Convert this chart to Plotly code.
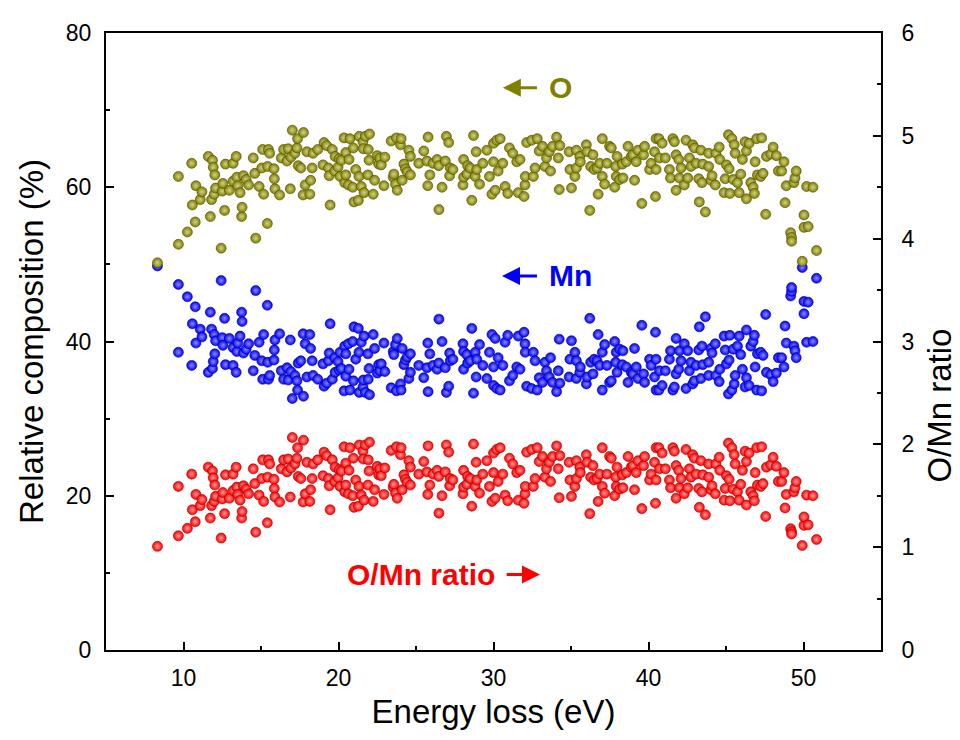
import plotly.graph_objects as go

# Energy loss (eV)
energy = [
    8.32, 9.67, 9.67, 10.25, 10.53, 10.57, 10.76, 10.80, 11.08, 11.19,
    11.60, 11.73, 11.81, 11.87, 11.92, 11.98, 12.02, 12.07, 12.43, 12.50,
    12.54, 12.65, 12.71, 12.96, 13.20, 13.20, 13.40, 13.44, 13.50, 13.65,
    13.75, 13.78, 13.87, 14.04, 14.20, 14.50, 14.60, 14.66, 14.88, 15.05,
    15.11, 15.17, 15.41, 15.43, 15.48, 15.56, 15.84, 15.86, 15.90, 16.20,
    16.31, 16.46, 16.68, 16.76, 16.89, 16.93, 17.02, 17.19, 17.32, 17.36,
    17.40, 17.57, 17.72, 17.74, 17.85, 17.96, 18.15, 18.20, 18.30,
    18.36, 18.66, 19.00, 19.07, 19.24, 19.35, 19.40, 19.46, 19.60, 19.76,
    19.78, 19.97, 20.04, 20.10, 20.19, 20.36, 20.40, 20.47, 20.47, 20.64,
    20.68, 20.74, 20.92, 20.96, 21.00, 21.11, 21.28, 21.32, 21.34, 21.47,
    21.58, 21.60, 21.65, 21.73, 21.90, 21.92, 21.97, 22.00, 22.24, 22.33,
    22.50, 22.59, 22.67, 22.76, 22.93, 22.99, 23.40, 23.53, 23.57, 23.68,
    23.74, 23.79, 24.00, 24.04, 24.11, 24.22, 24.32, 24.43, 24.54, 24.64,
    24.64, 25.18, 25.50, 25.71, 25.76, 25.78, 25.89, 26.10, 26.36, 26.47,
    26.48, 26.68, 26.89, 26.96, 27.11, 27.17, 27.21, 27.38, 28.03, 28.07,
    28.07, 28.28, 28.33, 28.50, 28.60, 28.71,
    28.82, 28.88, 28.92, 29.10, 29.31, 29.57, 29.74, 29.90, 30.00, 30.00,
    30.11, 30.21, 30.30, 30.43, 30.60, 30.75, 30.92, 31.03, 31.24, 31.50,
    31.60, 31.71, 31.97, 32.03, 32.05, 32.14, 32.46, 32.57, 32.68, 32.82,
    32.95, 33.16, 33.32, 33.42, 33.60, 33.68, 33.81, 34.07, 34.18, 34.24,
    34.28, 34.88, 34.93, 35.03, 35.25, 35.35, 35.35, 35.57, 35.60, 35.99,
    36.04, 36.21, 36.27, 36.42, 36.49, 36.68, 36.75, 36.85, 37.02, 37.02,
    37.17, 37.32, 37.49, 37.60, 37.82, 37.88, 37.92, 37.97, 38.14, 38.31,
    38.57, 38.68, 38.89, 38.35, 38.99, 39.10, 39.21, 39.32, 39.57, 39.68,
    39.75, 40.07, 40.17, 40.39, 40.45, 40.49, 40.49, 40.67, 40.71, 40.88,
    41.09, 41.35, 41.42, 41.57, 41.67, 41.78, 41.78, 41.95, 42.00, 42.10,
    42.31, 42.42, 42.53, 42.64, 42.74, 42.85, 42.96, 43.07, 43.24, 43.28,
    43.38, 43.45, 43.50, 43.67, 43.88, 43.88, 44.03, 44.10, 44.31, 44.35,
    44.56, 44.60, 44.88, 44.95, 45.03, 45.16, 45.20, 45.25, 45.38, 45.46,
    45.53, 45.59, 45.74, 45.85, 45.95, 46.06, 46.23, 46.32, 46.32, 46.49,
    46.60, 46.75, 46.83, 46.88, 46.98, 47.03, 47.24, 47.30, 47.39, 47.56,
    47.61, 47.89, 48.04, 48.25, 48.38, 48.59, 48.74, 48.81, 48.89, 49.17,
    49.23, 49.23, 49.38, 49.45, 49.53, 49.92, 50.03, 50.03, 50.20, 50.30,
    50.61, 50.84,
]

# O relative composition (%)
o_pct = [
    50.2, 52.6, 61.4, 54.2, 63.1, 57.7, 55.5, 60.2, 58.4, 59.4,
    64.0, 56.2, 58.4, 63.5, 62.6, 59.1, 61.6, 59.9, 52.1, 59.5,
    60.5, 57.0, 63.0, 59.6, 63.1, 60.8, 64.0, 61.3, 60.2, 59.3,
    56.2, 57.4, 61.5, 61.0, 60.3, 63.8, 61.8, 53.4, 60.1, 62.5,
    64.9, 59.1, 55.3, 62.7, 64.9, 64.4, 62.4, 61.1, 59.8, 59.0,
    63.8, 64.9, 63.4, 65.0, 59.8, 63.9, 67.4, 64.4, 65.1, 66.3,
    62.8, 62.5, 59.0, 67.1, 60.3, 64.6, 59.1, 60.9, 62.5,
    64.4, 64.9, 62.9, 65.8, 65.4, 62.5, 61.5, 57.7, 64.9, 62.1,
    64.0, 62.6, 63.7, 61.4, 63.5, 66.4, 60.6, 64.5, 61.6, 60.3,
    63.6, 66.3, 60.0, 65.1, 58.1, 62.3, 58.3, 61.4, 66.6, 60.1,
    65.9, 65.0, 59.3, 66.6, 61.6, 64.9, 63.5, 66.9, 59.1, 60.9,
    64.1, 63.0, 63.8, 62.9, 60.2, 63.9, 66.0, 61.3, 61.7, 60.4,
    66.4, 59.6, 65.5, 66.3, 60.9, 63.0, 62.4, 62.0, 64.8, 64.0,
    61.6, 63.1, 64.7, 63.4, 60.2, 66.5, 61.6, 63.1, 63.6, 62.8,
    57.1, 60.0, 63.4, 66.6, 65.8, 61.5, 62.5, 62.3, 60.3, 63.6,
    61.3, 61.7, 62.8, 62.5, 58.3, 66.7,
    61.4, 64.6, 62.3, 60.4, 63.1, 64.8, 61.4, 59.1, 65.7, 63.3,
    59.6, 66.1, 62.1, 66.3, 63.1, 60.1, 59.2, 65.1, 64.4, 63.3,
    59.3, 63.6, 58.8, 60.3, 61.4, 65.8, 66.1, 61.4, 62.5, 66.3,
    64.7, 65.3, 62.7, 63.8, 64.6, 62.1, 65.3, 66.5, 63.8, 59.7,
    65.4, 64.6, 62.3, 59.9, 61.4, 62.5, 64.8, 64.0, 63.3, 65.5,
    64.6, 57.0, 62.7, 64.2, 62.3, 62.5, 59.1, 63.1, 66.3, 61.4,
    60.4, 63.1, 65.3, 65.1, 60.0, 62.7, 61.4, 64.0, 61.0, 63.0,
    63.3, 65.3, 64.0, 61.2, 64.2, 60.9, 63.3, 64.8, 57.9, 64.2,
    65.3, 62.3, 63.1, 64.6, 58.8, 66.3, 62.3, 66.3, 63.8, 65.7,
    63.8, 62.3, 61.2, 66.3, 65.9, 64.2, 59.6, 63.6, 61.2, 62.5,
    60.3, 66.1, 61.2, 63.8, 62.7, 65.5, 65.1, 63.1, 61.1, 58.1,
    64.8, 60.6, 63.0, 56.8, 64.4, 62.7, 60.9, 61.5, 60.3, 64.4,
    65.2, 63.6, 59.3, 61.1, 62.9, 66.8, 62.4, 59.2, 66.3, 61.0,
    65.5, 64.4, 60.6, 59.3, 61.7, 63.6, 65.9, 64.7, 58.5, 65.7,
    60.6, 60.0, 59.2, 63.3, 66.3, 61.6, 61.4, 66.4, 61.8, 56.5,
    64.0, 64.3, 65.2, 64.1, 62.1, 62.1, 63.3, 58.0, 60.2, 54.1,
    53.5, 53.0, 60.6, 61.2, 62.1, 50.4, 54.8, 56.4, 60.1, 54.9,
    60.0, 51.8,
]

# Mn relative composition (%)
mn_pct = [
    49.8, 47.4, 38.6, 45.8, 36.9, 42.3, 44.5, 39.8, 41.6, 40.6,
    36.0, 43.8, 41.6, 36.5, 37.4, 40.9, 38.4, 40.1, 47.9, 40.5,
    39.5, 43.0, 37.0, 40.4, 36.9, 39.2, 36.0, 38.7, 39.8, 40.7,
    43.8, 42.6, 38.5, 39.0, 39.7, 36.2, 38.2, 46.6, 39.9, 37.5,
    35.1, 40.9, 44.7, 37.3, 35.1, 35.6, 37.6, 38.9, 40.2, 41.0,
    36.2, 35.1, 36.6, 35.0, 40.2, 36.1, 32.6, 35.6, 34.9, 33.7,
    37.2, 37.5, 41.0, 32.9, 39.7, 35.4, 40.9, 39.1, 37.5,
    35.6, 35.1, 37.1, 34.2, 34.6, 37.5, 38.5, 42.3, 35.1, 37.9,
    36.0, 37.4, 36.3, 38.6, 36.5, 33.6, 39.4, 35.5, 38.4, 39.7,
    36.4, 33.7, 40.0, 34.9, 41.9, 37.7, 41.7, 38.6, 33.4, 39.9,
    34.1, 35.0, 40.7, 33.4, 38.4, 35.1, 36.5, 33.1, 40.9, 39.1,
    35.9, 37.0, 36.2, 37.1, 39.8, 36.1, 34.0, 38.7, 38.3, 39.6,
    33.6, 40.4, 34.5, 33.7, 39.1, 37.0, 37.6, 38.0, 35.2, 36.0,
    38.4, 36.9, 35.3, 36.6, 39.8, 33.5, 38.4, 36.9, 36.4, 37.2,
    42.9, 40.0, 36.6, 33.4, 34.2, 38.5, 37.5, 37.7, 39.7, 36.4,
    38.7, 38.3, 37.2, 37.5, 41.7, 33.3,
    38.6, 35.4, 37.7, 39.6, 36.9, 35.2, 38.6, 40.9, 34.3, 36.7,
    40.4, 33.9, 37.9, 33.7, 36.9, 39.9, 40.8, 34.9, 35.6, 36.7,
    40.7, 36.4, 41.2, 39.7, 38.6, 34.2, 33.9, 38.6, 37.5, 33.7,
    35.3, 34.7, 37.3, 36.2, 35.4, 37.9, 34.7, 33.5, 36.2, 40.3,
    34.6, 35.4, 37.7, 40.1, 38.6, 37.5, 35.2, 36.0, 36.7, 34.5,
    35.4, 43.0, 37.3, 35.8, 37.7, 37.5, 40.9, 36.9, 33.7, 38.6,
    39.6, 36.9, 34.7, 34.9, 40.0, 37.3, 38.6, 36.0, 39.0, 37.0,
    36.7, 34.7, 36.0, 38.8, 35.8, 39.1, 36.7, 35.2, 42.1, 35.8,
    34.7, 37.7, 36.9, 35.4, 41.2, 33.7, 37.7, 33.7, 36.2, 34.3,
    36.2, 37.7, 38.8, 33.7, 34.1, 35.8, 40.4, 36.4, 38.8, 37.5,
    39.7, 33.9, 38.8, 36.2, 37.3, 34.5, 34.9, 36.9, 38.9, 41.9,
    35.2, 39.4, 37.0, 43.2, 35.6, 37.3, 39.1, 38.5, 39.7, 35.6,
    34.8, 36.4, 40.7, 38.9, 37.1, 33.2, 37.6, 40.8, 33.7, 39.0,
    34.5, 35.6, 39.4, 40.7, 38.3, 36.4, 34.1, 35.3, 41.5, 34.3,
    39.4, 40.0, 40.8, 36.7, 33.7, 38.4, 38.6, 33.6, 38.2, 43.5,
    36.0, 35.7, 34.8, 35.9, 37.9, 37.9, 36.7, 42.0, 39.8, 45.9,
    46.5, 47.0, 39.4, 38.8, 37.9, 49.6, 45.2, 43.6, 39.9, 45.1,
    40.0, 48.2,
]

# O/Mn ratio (right axis)
ratio = [
    1.008, 1.110, 1.591, 1.183, 1.710, 1.364, 1.247, 1.513, 1.404, 1.463,
    1.778, 1.283, 1.404, 1.740, 1.674, 1.445, 1.604, 1.494, 1.088, 1.469,
    1.532, 1.326, 1.703, 1.475, 1.710, 1.551, 1.778, 1.584, 1.513, 1.457,
    1.283, 1.347, 1.597, 1.564, 1.519, 1.762, 1.618, 1.146, 1.506, 1.667,
    1.849, 1.445, 1.237, 1.681, 1.849, 1.809, 1.660, 1.571, 1.488, 1.439,
    1.762, 1.849, 1.732, 1.857, 1.488, 1.770, 2.067, 1.809, 1.865, 1.967,
    1.688, 1.667, 1.439, 2.040, 1.519, 1.825, 1.445, 1.558, 1.667,
    1.809, 1.849, 1.695, 1.924, 1.890, 1.667, 1.597, 1.364, 1.849, 1.639,
    1.778, 1.674, 1.755, 1.591, 1.740, 1.976, 1.538, 1.817, 1.604, 1.519,
    1.747, 1.967, 1.500, 1.865, 1.387, 1.653, 1.398, 1.591, 1.994, 1.506,
    1.933, 1.857, 1.457, 1.994, 1.604, 1.849, 1.740, 2.021, 1.445, 1.558,
    1.786, 1.703, 1.762, 1.695, 1.513, 1.770, 1.941, 1.584, 1.611, 1.525,
    1.976, 1.475, 1.899, 1.967, 1.558, 1.703, 1.660, 1.632, 1.841, 1.778,
    1.604, 1.710, 1.833, 1.732, 1.513, 1.985, 1.604, 1.710, 1.747, 1.688,
    1.331, 1.500, 1.732, 1.994, 1.924, 1.597, 1.667, 1.653, 1.519, 1.747,
    1.584, 1.611, 1.688, 1.667, 1.398, 2.003,
    1.591, 1.825, 1.653, 1.525, 1.710, 1.841, 1.591, 1.445, 1.915, 1.725,
    1.475, 1.950, 1.639, 1.967, 1.710, 1.506, 1.451, 1.865, 1.809, 1.725,
    1.457, 1.747, 1.427, 1.519, 1.591, 1.924, 1.950, 1.591, 1.667, 1.967,
    1.833, 1.882, 1.681, 1.762, 1.825, 1.639, 1.882, 1.985, 1.762, 1.481,
    1.890, 1.825, 1.653, 1.494, 1.591, 1.667, 1.841, 1.778, 1.725, 1.899,
    1.825, 1.326, 1.681, 1.793, 1.653, 1.667, 1.445, 1.710, 1.967, 1.591,
    1.525, 1.710, 1.882, 1.865, 1.500, 1.681, 1.591, 1.778, 1.564, 1.703,
    1.725, 1.882, 1.778, 1.577, 1.793, 1.558, 1.725, 1.841, 1.375, 1.793,
    1.882, 1.653, 1.710, 1.825, 1.427, 1.967, 1.653, 1.967, 1.762, 1.915,
    1.762, 1.653, 1.577, 1.967, 1.933, 1.793, 1.475, 1.747, 1.577, 1.667,
    1.519, 1.950, 1.577, 1.762, 1.681, 1.899, 1.865, 1.710, 1.571, 1.387,
    1.841, 1.538, 1.703, 1.315, 1.809, 1.681, 1.558, 1.597, 1.519, 1.809,
    1.874, 1.747, 1.457, 1.571, 1.695, 2.012, 1.660, 1.451, 1.967, 1.564,
    1.899, 1.809, 1.538, 1.457, 1.611, 1.747, 1.933, 1.833, 1.410, 1.915,
    1.538, 1.500, 1.451, 1.725, 1.967, 1.604, 1.591, 1.976, 1.618, 1.299,
    1.778, 1.801, 1.874, 1.786, 1.639, 1.639, 1.725, 1.381, 1.513, 1.179,
    1.151, 1.128, 1.538, 1.577, 1.639, 1.016, 1.212, 1.294, 1.506, 1.217,
    1.500, 1.075,
]

OLIVE = "#808000"
BLUE = "#0000FF"
RED = "#FF0000"
FONT = "Liberation Sans, Arial, sans-serif"


def marker(color, edge, glow):
    return dict(color=color, size=10, line=dict(width=0.6, color=edge),
                gradient=dict(type="radial", color=glow))


fig = go.Figure()
fig.add_trace(go.Scatter(x=energy, y=mn_pct, mode="markers", name="Mn",
                         marker=marker(BLUE, "#00008a", "#8c8cff")))
fig.add_trace(go.Scatter(x=energy, y=ratio, mode="markers", name="O/Mn ratio",
                         yaxis="y2", marker=marker(RED, "#a00000", "#ff9a9a")))
fig.add_trace(go.Scatter(x=energy, y=o_pct, mode="markers", name="O",
                         marker=marker(OLIVE, "#4d4d00", "#d2d28a")))

axis_common = dict(showgrid=False, zeroline=False, showline=True, linecolor="black",
                   linewidth=2, ticks="inside", ticklen=8, tickwidth=2, tickcolor="black",
                   tickfont=dict(family=FONT, size=23, color="black"))
title_font = dict(family=FONT, size=33, color="black")

fig.update_layout(
    width=952, height=732,
    margin=dict(l=98, r=79, t=19, b=90),
    paper_bgcolor="white", plot_bgcolor="white",
    showlegend=False,
    font=dict(family=FONT, color="black"),
    xaxis=dict(range=[5, 55], tick0=0, dtick=10, mirror=True,
               minor=dict(ticks="inside", ticklen=4, tickwidth=2, dtick=5, tickcolor="black"),
               title=dict(text="Energy loss (eV)", font=title_font, standoff=10),
               ticklabelstandoff=6, **axis_common),
    yaxis=dict(range=[0, 80], tick0=0, dtick=20,
               minor=dict(ticks="inside", ticklen=4, tickwidth=2, dtick=10, tickcolor="black"),
               title=dict(text="Relative composition (%)", font=title_font, standoff=12),
               ticklabelstandoff=8, **axis_common),
    yaxis2=dict(range=[0, 6], tick0=0, dtick=1, overlaying="y", side="right",
                minor=dict(ticks="inside", ticklen=4, tickwidth=2, dtick=0.5, tickcolor="black"),
                ticklabelstandoff=14, **axis_common),
)

# right axis title, placed like the reference (slightly below the axis middle)
fig.add_annotation(x=1.076, y=0.396, xref="paper", yref="paper", text="O/Mn ratio",
                   textangle=-90, showarrow=False, xanchor="center", yanchor="middle",
                   font=title_font)

label_font = dict(family=FONT, size=30)
# O label and arrow
fig.add_annotation(x=30.6, y=72.9, ax=32.9, ay=72.9, xref="x", yref="y", axref="x", ayref="y",
                   text="", showarrow=True, arrowhead=2, arrowsize=1.2, arrowwidth=3, arrowcolor=OLIVE)
fig.add_annotation(x=34.35, y=72.9, xref="x", yref="y", text="<b>O</b>", showarrow=False,
                   font=dict(color=OLIVE, **label_font))
# Mn label and arrow
fig.add_annotation(x=30.55, y=48.5, ax=32.9, ay=48.5, xref="x", yref="y", axref="x", ayref="y",
                   text="", showarrow=True, arrowhead=2, arrowsize=1.2, arrowwidth=3, arrowcolor=BLUE)
fig.add_annotation(x=34.94, y=48.5, xref="x", yref="y", text="<b>Mn</b>", showarrow=False,
                   font=dict(color=BLUE, **label_font))
# ratio label and arrow
fig.add_annotation(x=33.0, y=9.8, ax=30.75, ay=9.8, xref="x", yref="y", axref="x", ayref="y",
                   text="", showarrow=True, arrowhead=2, arrowsize=1.2, arrowwidth=3, arrowcolor=RED)
fig.add_annotation(x=30.25, y=9.8, xref="x", yref="y", text="<b>O/Mn ratio</b>", showarrow=False,
                   xanchor="right", font=dict(color=RED, **label_font))

fig.write_html("out.html")
